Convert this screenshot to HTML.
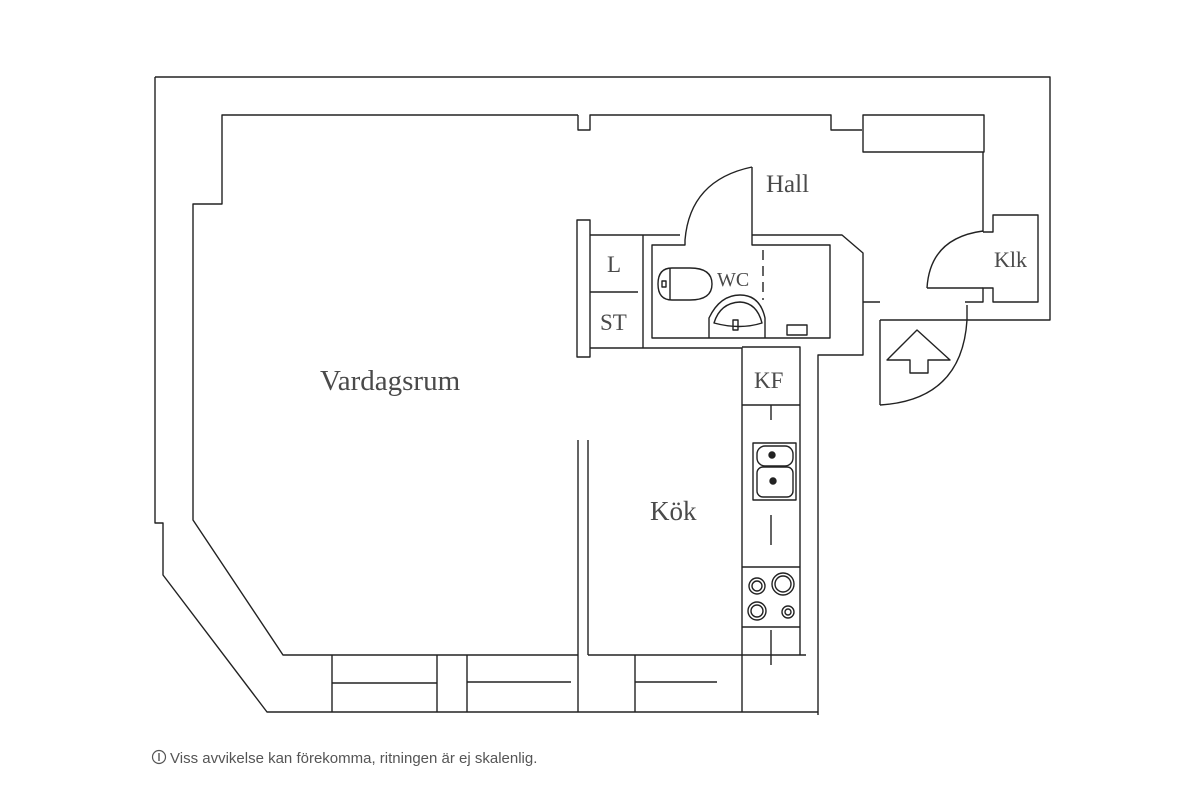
<!DOCTYPE html>
<html><head><meta charset="utf-8"><style>
html,body{margin:0;padding:0;background:#fff;width:1200px;height:800px;overflow:hidden}
svg{display:block}
.t{font-family:"Liberation Serif",serif;fill:#4a4a4a}
.f{font-family:"Liberation Sans",sans-serif;fill:#555;font-size:15px}
</style></head><body>
<svg width="1200" height="800" viewBox="0 0 1200 800" xmlns="http://www.w3.org/2000/svg">
<g fill="none" stroke="#222" stroke-width="1.4" stroke-linejoin="round">
<polyline points="155,77 1050,77 1050,320 880,320"/>
<polyline points="155,77 155,523 163,523 163,575 267,712 818,712"/>
<polyline points="578,115 222,115 222,204 193,204 193,520 283,655 578,655"/>
<polyline points="578,115 578,130 590,130 590,115 831,115 831,130 862,130"/>
<rect x="863" y="115" width="121" height="37"/>
<polyline points="983,152 983,232"/>
<polyline points="983,232 993,232 993,215 1038,215 1038,302 993,302 993,288 983,288 983,302 965,302"/>
<polyline points="927,288 983,288"/>
<path d="M927,288 Q930,238 983,231"/>
<polyline points="880,320 880,405"/>
<polyline points="967,305 967,320"/>
<path d="M880,405 Q962,400 967,320"/>
<polygon points="887,360 917,330 950,360 928,360 928,373 910,373 910,360"/>
<polyline points="863,302 880,302"/>
<polyline points="752,235 842,235 863,253 863,355 818,355 818,715"/>
<polyline points="752,167 752,245 830,245 830,338 652,338 652,245 685,245 685,240"/>
<path d="M685,240 Q690,180 752,167"/>
<polyline points="763,250 763,300" stroke-dasharray="10,6"/>
<rect x="577" y="220" width="13" height="137"/>
<polyline points="590,235 680,235"/>
<polyline points="643,235 643,348"/>
<polyline points="590,348 736,348"/>
<polyline points="590,292 638,292"/>
<path d="M658,284 Q658,268 672,268 L690,268 Q712,268 712,284 Q712,300 690,300 L672,300 Q658,300 658,284 Z"/>
<line x1="670" y1="268" x2="670" y2="300"/>
<rect x="662" y="281" width="4" height="6"/>
<path d="M709,338 L709,318 Q720,295 740,295 Q760,295 765,318 L765,338"/>
<path d="M714,323 Q720,303 740,302 Q757,303 762,323 Q740,330 714,323Z"/>
<rect x="733" y="320" width="5" height="10"/>
<rect x="787" y="325" width="20" height="10"/>
<polyline points="736,348 742,348 742,712"/>
<polyline points="742,347 800,347 800,655"/>
<line x1="742" y1="405" x2="800" y2="405"/>
<line x1="771" y1="405" x2="771" y2="420"/>
<line x1="771" y1="515" x2="771" y2="545"/>
<line x1="771" y1="630" x2="771" y2="665"/>
<rect x="753" y="443" width="43" height="57"/>
<rect x="757" y="446" width="36" height="20" rx="8"/>
<rect x="757" y="467" width="36" height="30" rx="6"/>
<circle cx="772" cy="455" r="3" fill="#222"/>
<circle cx="773" cy="481" r="3" fill="#222"/>
<line x1="742" y1="567" x2="800" y2="567"/>
<line x1="742" y1="627" x2="800" y2="627"/>
<circle cx="757" cy="586" r="8"/><circle cx="757" cy="586" r="5"/>
<circle cx="783" cy="584" r="11"/><circle cx="783" cy="584" r="8"/>
<circle cx="757" cy="611" r="9"/><circle cx="757" cy="611" r="6"/>
<circle cx="788" cy="612" r="6"/><circle cx="788" cy="612" r="3"/>
<polyline points="578,440 578,712"/>
<polyline points="588,440 588,655"/>
<polyline points="588,655 806,655"/>
<line x1="332" y1="655" x2="332" y2="712"/>
<line x1="437" y1="655" x2="437" y2="712"/>
<line x1="467" y1="655" x2="467" y2="712"/>
<line x1="635" y1="655" x2="635" y2="712"/>
<line x1="332" y1="683" x2="437" y2="683"/>
<line x1="467" y1="682" x2="571" y2="682"/>
<line x1="635" y1="682" x2="717" y2="682"/>
</g>
<text class="t" x="320" y="390" font-size="29">Vardagsrum</text>
<text class="t" x="766" y="192" font-size="25">Hall</text>
<text class="t" x="994" y="267" font-size="22">Klk</text>
<text class="t" x="717" y="286" font-size="20">WC</text>
<text class="t" x="607" y="272" font-size="23">L</text>
<text class="t" x="600" y="330" font-size="23">ST</text>
<text class="t" x="754" y="388" font-size="23">KF</text>
<text class="t" x="650" y="520" font-size="27">Kök</text>
<circle cx="159" cy="757" r="6.5" fill="none" stroke="#555" stroke-width="1.2"/>
<line x1="159" y1="753" x2="159" y2="761" stroke="#555" stroke-width="1.4"/>
<text class="f" x="170" y="763">Viss avvikelse kan förekomma, ritningen är ej skalenlig.</text>
</svg>
</body></html>
